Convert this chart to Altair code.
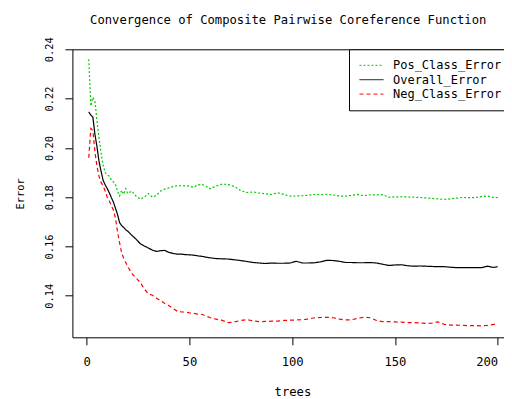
import altair as alt
import pandas as pd

# ---- data ----
trees = [1, 2, 3, 4, 5, 6, 7, 8, 9, 10, 11, 12, 13, 14, 15, 16, 17, 18, 19, 20,
         22, 24, 26, 28, 30, 32, 34, 36, 38, 40, 42, 44, 46, 48, 50, 52, 54, 56, 58, 60,
         63, 66, 69, 72, 75, 78, 81, 84, 87, 90, 93, 96, 99, 102, 105, 108, 111, 114,
         117, 120, 123, 126, 129, 132, 135, 138, 141, 144, 147, 150, 153, 156, 159, 162,
         165, 168, 171, 174, 177, 180, 183, 186, 189, 192, 195, 198,
         200]

pos_class_error = [
    0.2360, 0.2170, 0.2205, 0.2190, 0.2110, 0.2040, 0.1980, 0.1930, 0.1900, 0.1890,
    0.1885, 0.1870, 0.1862, 0.1850, 0.1825, 0.1805, 0.1828, 0.1812, 0.1835, 0.1815,
    0.1825, 0.1805, 0.1792, 0.1800, 0.1815, 0.1800, 0.1808, 0.1825, 0.1833, 0.1838,
    0.1843, 0.1846, 0.1847, 0.1846, 0.1845, 0.1840, 0.1850, 0.1852, 0.1845, 0.1834,
    0.1846, 0.1853, 0.1851, 0.1843, 0.1826, 0.1819, 0.1821, 0.1817, 0.1814, 0.1811,
    0.1818, 0.1811, 0.1804, 0.1805, 0.1806, 0.1808, 0.1811, 0.1810, 0.1812, 0.1809,
    0.1805, 0.1804, 0.1808, 0.1811, 0.1806, 0.1810, 0.1809, 0.1810, 0.1800, 0.1801,
    0.1802, 0.1801, 0.1800, 0.1799, 0.1797, 0.1795, 0.1793, 0.1791, 0.1793, 0.1796,
    0.1799, 0.1798, 0.1798, 0.1802, 0.1805, 0.1798,
    0.1799]

overall_error = [
    0.2146, 0.2133, 0.2125, 0.2055, 0.2005, 0.1945, 0.1905, 0.1868, 0.1850, 0.1835,
    0.1818, 0.1798, 0.1780, 0.1755, 0.1730, 0.1697, 0.1685, 0.1677, 0.1668, 0.1662,
    0.1645, 0.1630, 0.1612, 0.1602, 0.1594, 0.1585, 0.1580, 0.1583, 0.1584, 0.1576,
    0.1572, 0.1569, 0.1569, 0.1567, 0.1566, 0.1565, 0.1562, 0.1560, 0.1557, 0.1554,
    0.1551, 0.1550, 0.1549, 0.1546, 0.1543, 0.1539, 0.1535, 0.1533, 0.1531, 0.1533,
    0.1532, 0.1532, 0.1533, 0.1540, 0.1533, 0.1533, 0.1534, 0.1538, 0.1544, 0.1543,
    0.1540, 0.1535, 0.1535, 0.1534, 0.1534, 0.1535, 0.1533, 0.1528, 0.1523, 0.1525,
    0.1526, 0.1522, 0.1520, 0.1521, 0.1520, 0.1519, 0.1518, 0.1518, 0.1516, 0.1514,
    0.1514, 0.1514, 0.1514, 0.1514, 0.1520, 0.1515,
    0.1518]

neg_class_error = [
    0.1960, 0.2079, 0.2070, 0.1985, 0.1925, 0.1885, 0.1860, 0.1845, 0.1825, 0.1800,
    0.1785, 0.1765, 0.1748, 0.1715, 0.1660, 0.1615, 0.1575, 0.1552, 0.1535, 0.1518,
    0.1490, 0.1472, 0.1455, 0.1428, 0.1408, 0.1402, 0.1390, 0.1380, 0.1369, 0.1360,
    0.1349, 0.1338, 0.1335, 0.1334, 0.1331, 0.1329, 0.1326, 0.1325, 0.1318, 0.1312,
    0.1305, 0.1300, 0.1291, 0.1294, 0.1300, 0.1303, 0.1298, 0.1295, 0.1296, 0.1297,
    0.1297, 0.1300, 0.1301, 0.1302, 0.1303, 0.1306, 0.1311, 0.1312, 0.1313, 0.1311,
    0.1305, 0.1302, 0.1303, 0.1309, 0.1313, 0.1311, 0.1300, 0.1295, 0.1295, 0.1294,
    0.1293, 0.1291, 0.1291, 0.1290, 0.1288, 0.1289, 0.1294, 0.1284, 0.1281, 0.1281,
    0.1280, 0.1279, 0.1279, 0.1278, 0.1280, 0.1284,
    0.1284]

series_names = ["Pos_Class_Error", "Overall_Error", "Neg_Class_Error"]
series_colors = ["#00CD00", "#000000", "#FF0000"]
series_dashes = [[2, 2], [1, 0], [4, 3]]

x_ticks = [0, 50, 100, 150, 200]
y_ticks = [0.14, 0.16, 0.18, 0.20, 0.22, 0.24]

assert len(trees) == len(pos_class_error) == len(overall_error) == len(neg_class_error)

rows = []
for name, vals in zip(series_names, [pos_class_error, overall_error, neg_class_error]):
    for t, v in zip(trees, vals):
        rows.append({"trees": t, "error": v, "series": name, "style": name})
df = pd.DataFrame(rows)

FONT = "DejaVu Sans Mono"
W, H = 431.6, 288

x_scale = alt.Scale(domain=[-6.96, 203.07], nice=False, zero=False)
y_scale = alt.Scale(domain=[0.12316, 0.24], nice=False, zero=False)

x_axis = alt.Axis(values=x_ticks, title="trees", grid=False,
                  domain=True, domainColor="#000000", domainWidth=1,
                  tickColor="#000000", tickSize=7.5, tickWidth=1,
                  labelFont=FONT, labelFontSize=12.2, labelColor="#000000",
                  labelAlign=alt.ExprRef("datum.value == 200 ? 'right' : 'center'"),
                  labelBaseline="middle", labelPadding=17, labelFlush=False,
                  labelOverlap=False, labelBound=False,
                  titleFont=FONT, titleFontSize=12.2, titleFontWeight="normal",
                  titleColor="#000000", titleBaseline="middle",
                  titleX=220, titleY=54)

y_axis = alt.Axis(values=y_ticks, format=".2f", title="Error", grid=False,
                  domain=True, domainColor="#000000", domainWidth=1,
                  tickColor="#000000", tickSize=7.5, tickWidth=1,
                  labelFont=FONT, labelFontSize=10.4, labelColor="#000000",
                  labelAngle=270, labelAlign="center", labelBaseline="middle",
                  labelPadding=15, labelFlush=False, labelOverlap=False,
                  labelBound=False,
                  titleFont=FONT, titleFontSize=10.4, titleFontWeight="normal",
                  titleColor="#000000", titleAngle=270, titleAlign="center",
                  titleBaseline="middle", titleX=-52.4, titleY=144)

lines = alt.Chart(df).mark_line(strokeWidth=1.2, clip=True).encode(
    x=alt.X("trees:Q", scale=x_scale, axis=x_axis),
    y=alt.Y("error:Q", scale=y_scale, axis=y_axis),
    color=alt.Color("series:N",
                    scale=alt.Scale(domain=series_names, range=series_colors),
                    legend=alt.Legend(title=None, orient="none", legendX=276.6, legendY=0,
                                      symbolType="M-6,0H6", symbolSize=16,
                                      symbolDash=[4, 2], symbolStrokeWidth=1,
                                      symbolOffset=6.5,
                                      strokeColor="#000000", fillColor="#ffffff",
                                      padding=10, rowPadding=2.4, labelOffset=15.5,
                                      labelFont=FONT, labelFontSize=12,
                                      labelColor="#000000")),
    strokeDash=alt.StrokeDash("style:N",
                              scale=alt.Scale(domain=series_names, range=series_dashes),
                              legend=None),
)

top_border = alt.Chart(df).mark_line(opacity=0).encode(
    x=alt.X("trees:Q", scale=x_scale,
            axis=alt.Axis(orient="top", labels=False, ticks=False, title=None,
                          grid=False, domain=True, domainColor="#000000", domainWidth=1)),
    y=alt.Y("error:Q", scale=y_scale, axis=y_axis),
)

chart = alt.layer(lines, top_border).resolve_axis(x="independent").properties(
    width=W, height=H,
    autosize=alt.AutoSizeParams(type="none"),
    padding={"left": 64.4, "top": 41.3, "right": 0, "bottom": 61},
    title=alt.TitleParams("Convergence of Composite Pairwise Coreference Function",
                          font=FONT, fontSize=12.2, fontWeight="normal", color="#000000",
                          anchor="middle", baseline="middle", offset=5),
    background="#ffffff",
).configure_view(stroke=None)

chart.save("out.html", embed_options={"renderer": "svg", "actions": False})
